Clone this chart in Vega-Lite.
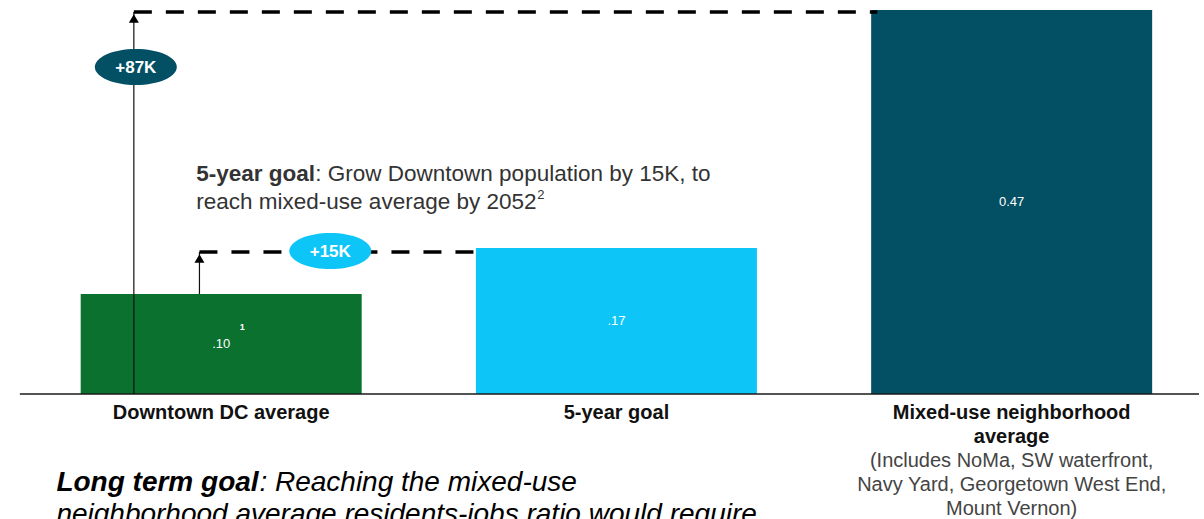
{
  "$schema": "https://vega.github.io/schema/vega-lite/v6.json",
  "width": 1204,
  "height": 519,
  "autosize": {"type": "none"},
  "padding": 0,
  "background": "#ffffff",
  "config": {"view": {"stroke": null}, "text": {"font": "Liberation Sans"}},
  "datasets": {
    "bars": [
      {"pos": 1, "category": "Downtown DC average", "drawn": 0.100, "label": ".10", "note": "1", "title": "Downtown DC average", "detail": ""},
      {"pos": 2, "category": "5-year goal", "drawn": 0.146, "label": ".17", "note": "", "title": "5-year goal", "detail": ""},
      {"pos": 3, "category": "Mixed-use neighborhood average", "drawn": 0.384, "label": "0.47", "note": "", "title": "Mixed-use neighborhood\naverage", "detail": "(Includes NoMa, SW waterfront,\nNavy Yard, Georgetown West End,\nMount Vernon)"}
    ],
    "arrows": [
      {"target": "Mixed-use neighborhood average", "x": 0.779, "base": 0, "tip": 0.382, "end": 2.66, "gain": "+87K", "bx": 0.784, "by": 0.327},
      {"target": "5-year goal", "x": 0.945, "base": 0.100, "tip": 0.142, "end": 1.647, "gain": "+15K", "bx": 1.276, "by": 0.143}
    ]
  },
  "resolve": {"scale": {"y": "independent"}},
  "layer": [
    {
      "data": {"name": "bars"},
      "mark": {"type": "bar", "size": 281},
      "encoding": {
        "x": {"field": "pos", "type": "quantitative", "scale": {"domain": [0.453, 3.474], "nice": false, "zero": false}, "axis": null},
        "y": {"field": "drawn", "type": "quantitative", "stack": null, "scale": {"domain": [-0.125, 0.394], "nice": false, "zero": false}, "axis": null},
        "color": {"field": "category", "type": "nominal", "scale": {"domain": ["Downtown DC average", "5-year goal", "Mixed-use neighborhood average"], "range": ["#0b712f", "#0dc6f7", "#034f64"]}, "legend": null}
      }
    },
    {
      "data": {"values": [{}]},
      "mark": {"type": "rule", "color": "#1a1a1a", "strokeWidth": 1.5},
      "encoding": {
        "x": {"datum": 0.4906, "type": "quantitative", "scale": {"domain": [0.453, 3.474], "nice": false, "zero": false}},
        "x2": {"datum": 3.474},
        "y": {"datum": 0, "type": "quantitative", "scale": {"domain": [-0.125, 0.394], "nice": false, "zero": false}, "axis": null}
      }
    },
    {
      "data": {"name": "arrows"},
      "mark": {"type": "rule", "color": "#111111", "strokeWidth": 1.2},
      "encoding": {
        "x": {"field": "x", "type": "quantitative", "scale": {"domain": [0.453, 3.474], "nice": false, "zero": false}},
        "y": {"field": "base", "type": "quantitative", "scale": {"domain": [-0.125, 0.394], "nice": false, "zero": false}, "axis": null},
        "y2": {"field": "tip"}
      }
    },
    {
      "data": {"name": "arrows"},
      "mark": {"type": "rule", "color": "#000000", "strokeWidth": 3.5, "strokeDash": [18, 14], "strokeCap": "butt"},
      "encoding": {
        "x": {"field": "x", "type": "quantitative", "scale": {"domain": [0.453, 3.474], "nice": false, "zero": false}},
        "x2": {"field": "end"},
        "y": {"field": "tip", "type": "quantitative", "scale": {"domain": [-0.125, 0.394], "nice": false, "zero": false}, "axis": null}
      }
    },
    {
      "data": {"name": "arrows"},
      "mark": {"type": "point", "shape": "triangle-up", "filled": true, "size": 100, "color": "#000000", "opacity": 1, "yOffset": 6.5},
      "encoding": {
        "x": {"field": "x", "type": "quantitative", "scale": {"domain": [0.453, 3.474], "nice": false, "zero": false}},
        "y": {"field": "tip", "type": "quantitative", "scale": {"domain": [-0.125, 0.394], "nice": false, "zero": false}, "axis": null}
      }
    },
    {
      "data": {"name": "arrows"},
      "mark": {"type": "point", "shape": "M -1 0 A 1 0.44 0 1 1 1 0 A 1 0.44 0 1 1 -1 0 Z", "filled": true, "size": 6724, "opacity": 1, "strokeWidth": 0},
      "encoding": {
        "x": {"field": "bx", "type": "quantitative", "scale": {"domain": [0.453, 3.474], "nice": false, "zero": false}},
        "y": {"field": "by", "type": "quantitative", "scale": {"domain": [-0.125, 0.394], "nice": false, "zero": false}, "axis": null},
        "color": {"field": "target", "type": "nominal", "scale": {"domain": ["Downtown DC average", "5-year goal", "Mixed-use neighborhood average"], "range": ["#0b712f", "#0dc6f7", "#034f64"]}, "legend": null}
      }
    },
    {
      "data": {"name": "arrows"},
      "mark": {"type": "text", "color": "#ffffff", "fontSize": 17, "fontWeight": "bold", "align": "center", "baseline": "middle", "dy": 1},
      "encoding": {
        "x": {"field": "bx", "type": "quantitative", "scale": {"domain": [0.453, 3.474], "nice": false, "zero": false}},
        "y": {"field": "by", "type": "quantitative", "scale": {"domain": [-0.125, 0.394], "nice": false, "zero": false}, "axis": null},
        "text": {"field": "gain"}
      }
    },
    {
      "data": {"name": "bars"},
      "mark": {"type": "text", "color": "#ffffff", "fontSize": 13, "align": "center", "baseline": "middle"},
      "encoding": {
        "x": {"field": "pos", "type": "quantitative", "scale": {"domain": [0.453, 3.474], "nice": false, "zero": false}},
        "y": {"field": "drawn", "type": "quantitative", "scale": {"domain": [-0.25, 0.788], "nice": false, "zero": false}, "axis": null},
        "text": {"field": "label"}
      }
    },
    {
      "data": {"name": "bars"},
      "transform": [{"filter": "datum.note != ''"}],
      "mark": {"type": "text", "color": "#ffffff", "fontSize": 9, "fontWeight": "bold", "align": "center", "baseline": "middle", "dx": 21, "dy": -17},
      "encoding": {
        "x": {"field": "pos", "type": "quantitative", "scale": {"domain": [0.453, 3.474], "nice": false, "zero": false}},
        "y": {"field": "drawn", "type": "quantitative", "scale": {"domain": [-0.25, 0.788], "nice": false, "zero": false}, "axis": null},
        "text": {"field": "note"}
      }
    },
    {
      "data": {"name": "bars"},
      "mark": {"type": "text", "color": "#111111", "fontSize": 20, "fontWeight": "bold", "align": "center", "baseline": "top", "lineBreak": "\n", "lineHeight": 24},
      "encoding": {
        "x": {"field": "pos", "type": "quantitative", "scale": {"domain": [0.453, 3.474], "nice": false, "zero": false}},
        "y": {"datum": -0.009, "type": "quantitative", "scale": {"domain": [-0.125, 0.394], "nice": false, "zero": false}, "axis": null},
        "text": {"field": "title"}
      }
    },
    {
      "data": {"name": "bars"},
      "transform": [{"filter": "datum.detail != ''"}],
      "mark": {"type": "text", "color": "#444444", "fontSize": 20, "align": "center", "baseline": "top", "lineBreak": "\n", "lineHeight": 24},
      "encoding": {
        "x": {"field": "pos", "type": "quantitative", "scale": {"domain": [0.453, 3.474], "nice": false, "zero": false}},
        "y": {"datum": -0.057, "type": "quantitative", "scale": {"domain": [-0.125, 0.394], "nice": false, "zero": false}, "axis": null},
        "text": {"field": "detail"}
      }
    },
    {
      "data": {"values": [{}]},
      "mark": {"type": "text", "text": "5-year goal", "color": "#333333", "fontSize": 22.5, "fontWeight": "bold", "align": "left", "baseline": "middle"},
      "encoding": {
        "x": {"datum": 0.937, "type": "quantitative", "scale": {"domain": [0.453, 3.474], "nice": false, "zero": false}},
        "y": {"datum": 0.220, "type": "quantitative", "scale": {"domain": [-0.125, 0.394], "nice": false, "zero": false}, "axis": null}
      }
    },
    {
      "data": {"values": [{}]},
      "mark": {"type": "text", "text": ": Grow Downtown population by 15K, to", "color": "#333333", "fontSize": 22.5, "align": "left", "baseline": "middle", "dx": 119},
      "encoding": {
        "x": {"datum": 0.937, "type": "quantitative", "scale": {"domain": [0.453, 3.474], "nice": false, "zero": false}},
        "y": {"datum": 0.220, "type": "quantitative", "scale": {"domain": [-0.125, 0.394], "nice": false, "zero": false}, "axis": null}
      }
    },
    {
      "data": {"values": [{}]},
      "mark": {"type": "text", "text": "reach mixed-use average by 2052", "color": "#333333", "fontSize": 22.5, "align": "left", "baseline": "middle"},
      "encoding": {
        "x": {"datum": 0.937, "type": "quantitative", "scale": {"domain": [0.453, 3.474], "nice": false, "zero": false}},
        "y": {"datum": 0.192, "type": "quantitative", "scale": {"domain": [-0.125, 0.394], "nice": false, "zero": false}, "axis": null}
      }
    },
    {
      "data": {"values": [{}]},
      "mark": {"type": "text", "text": "2", "color": "#333333", "fontSize": 13, "align": "left", "baseline": "middle", "dx": 341, "dy": -7},
      "encoding": {
        "x": {"datum": 0.937, "type": "quantitative", "scale": {"domain": [0.453, 3.474], "nice": false, "zero": false}},
        "y": {"datum": 0.192, "type": "quantitative", "scale": {"domain": [-0.125, 0.394], "nice": false, "zero": false}, "axis": null}
      }
    },
    {
      "data": {"values": [{}]},
      "mark": {"type": "text", "text": "Long term goal", "color": "#000000", "fontSize": 28, "fontWeight": "bold", "fontStyle": "italic", "align": "left", "baseline": "middle"},
      "encoding": {
        "x": {"datum": 0.583, "type": "quantitative", "scale": {"domain": [0.453, 3.474], "nice": false, "zero": false}},
        "y": {"datum": -0.089, "type": "quantitative", "scale": {"domain": [-0.125, 0.394], "nice": false, "zero": false}, "axis": null}
      }
    },
    {
      "data": {"values": [{}]},
      "mark": {"type": "text", "text": ": Reaching the mixed-use", "color": "#000000", "fontSize": 28, "fontStyle": "italic", "align": "left", "baseline": "middle", "dx": 203},
      "encoding": {
        "x": {"datum": 0.583, "type": "quantitative", "scale": {"domain": [0.453, 3.474], "nice": false, "zero": false}},
        "y": {"datum": -0.089, "type": "quantitative", "scale": {"domain": [-0.125, 0.394], "nice": false, "zero": false}, "axis": null}
      }
    },
    {
      "data": {"values": [{}]},
      "mark": {"type": "text", "text": "neighborhood average residents-jobs ratio would require", "color": "#000000", "fontSize": 28, "fontStyle": "italic", "align": "left", "baseline": "middle"},
      "encoding": {
        "x": {"datum": 0.583, "type": "quantitative", "scale": {"domain": [0.453, 3.474], "nice": false, "zero": false}},
        "y": {"datum": -0.121, "type": "quantitative", "scale": {"domain": [-0.125, 0.394], "nice": false, "zero": false}, "axis": null}
      }
    }
  ]
}
